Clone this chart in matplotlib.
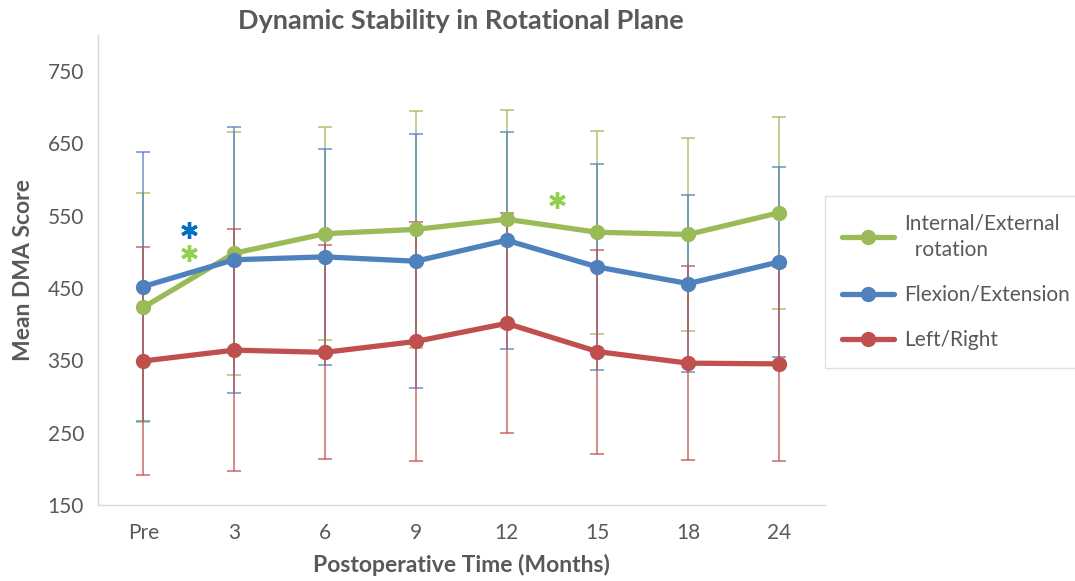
import numpy as np
import matplotlib
matplotlib.use("Agg")
import matplotlib.pyplot as plt

plt.rcParams['font.family'] = ['Lato', 'DejaVu Sans']

months = ['Pre', '3', '6', '9', '12', '15', '18', '24']

rot_mean = [423, 498, 525, 531, 545, 527, 524, 554]
rot_sd = [158, 168, 147, 164, 151, 140, 133, 133]

flex_mean = [452, 489, 493, 487, 516, 479, 456, 486]
flex_sd = [186, 184, 149, 176, 150, 143, 122, 131]

lr_mean = [349, 364, 361, 376, 401, 362, 346, 345]
lr_sd = [158, 167, 148, 165, 152, 141, 134, 134]

labels = ['Internal/External\n  rotation', 'Flexion/Extension', 'Left/Right']
colors = ['#9BBB59', '#4F81BD', '#C0504D']

# significance markers: (x position, y value, colour)
star_x = [0.5, 0.5, 4.55]
star_y = [530, 498, 572]
star_c = ['#0070C0', '#92D050', '#92D050']

txt = '#595959'

fig = plt.figure(figsize=(10.75, 5.81), dpi=100)
ax = fig.add_axes([0.091, 0.131, 0.676, 0.809])

x = np.arange(len(months))
series = [(rot_mean, rot_sd), (flex_mean, flex_sd), (lr_mean, lr_sd)]
for (m, s), c in zip(series, colors):
    ax.errorbar(x, m, yerr=s, fmt='none', ecolor=c, elinewidth=1.1,
                capsize=5, capthick=1.1, alpha=0.85, zorder=2)
for (m, s), c, lab in zip(series, colors, labels):
    ax.plot(x, m, color=c, lw=3.8, marker='o', markersize=10,
            label=lab, zorder=3, solid_capstyle='round')

for sx, sy, sc in zip(star_x, star_y, star_c):
    ax.plot(sx, sy, linestyle='none', marker=(6, 2, 0), markersize=12,
            markeredgewidth=2.4, color=sc, zorder=4)

ax.set_xlim(-0.5, 7.5)
ax.set_ylim(150, 800)
ax.set_yticks(np.arange(150, 751, 100))
ax.set_xticks(x)
ax.set_xticklabels(months)
ax.tick_params(axis='both', length=0, labelsize=15, colors=txt)
ax.tick_params(axis='x', pad=13)
ax.tick_params(axis='y', pad=10)

for sp in ['top', 'right']:
    ax.spines[sp].set_visible(False)
for sp in ['left', 'bottom']:
    ax.spines[sp].set_color('#D9D9D9')
    ax.spines[sp].set_linewidth(1)

ax.set_title('Dynamic Stability in Rotational Plane', fontsize=19.5,
             fontweight='bold', color=txt, pad=4)
ax.set_xlabel('Postoperative Time (Months)', fontsize=16.5, fontweight='bold',
              color=txt, labelpad=8)
ax.set_ylabel('Mean DMA Score', fontsize=16.5, fontweight='bold', color=txt,
              labelpad=10)

leg = fig.legend(loc='upper left', bbox_to_anchor=(0.767, 0.663),
                 fontsize=15, frameon=True, fancybox=False, edgecolor='#D9D9D9',
                 handlelength=2.5, labelspacing=1.2, borderpad=0.85,
                 handletextpad=0.45, borderaxespad=0)
for t in leg.get_texts():
    t.set_color(txt)
    t.set_linespacing(1.4)

fig.savefig('out.png', dpi=100, facecolor='white')
